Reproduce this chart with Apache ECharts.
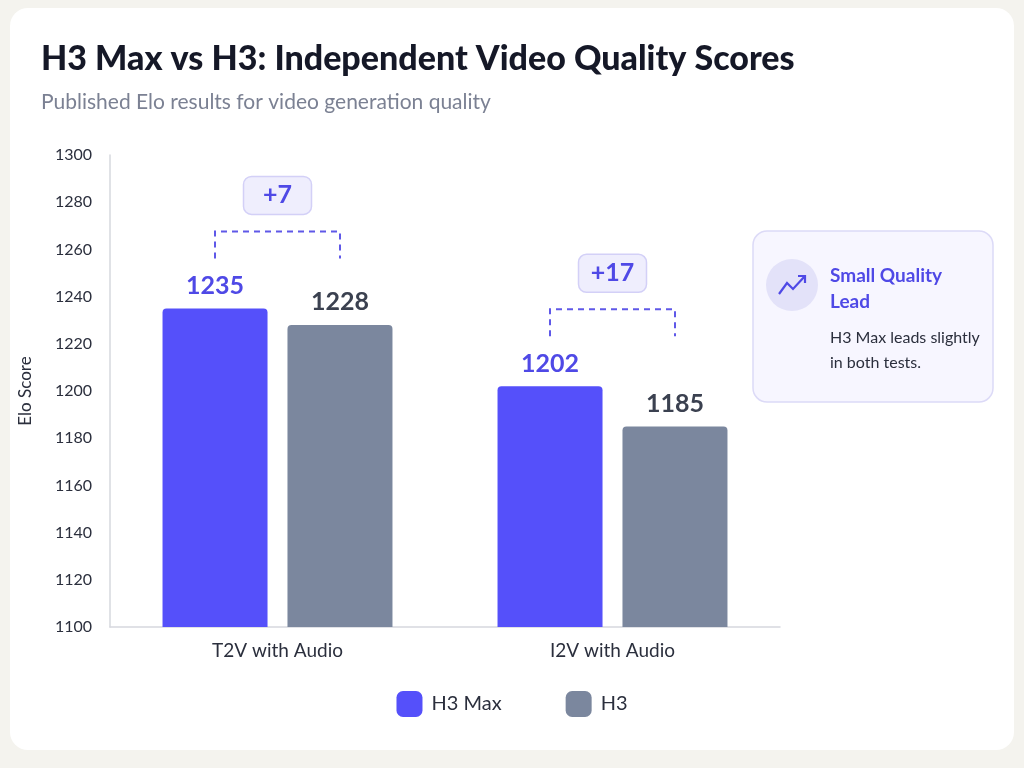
<!DOCTYPE html>
<html>
<head>
<meta charset="utf-8">
<script src="https://cdn.jsdelivr.net/npm/echarts@6/dist/echarts.min.js"></script>
<style>
  html, body { margin: 0; padding: 0; background: #f4f3ee; }
  #card { position: absolute; left: 10px; top: 8px; width: 1004px; height: 742px; background: #fff; border-radius: 18px; }
  #chart { position: absolute; left: 0; top: 0; width: 1024px; height: 768px; }
</style>
</head>
<body>
<div id="card"></div>
<div id="chart"></div>
<script>
var categories = ['T2V with Audio', 'I2V with Audio'];
var h3MaxScores = [1235, 1202];
var h3Scores = [1228, 1185];
var yTicks = { min: 1100, max: 1300, interval: 20 };

var chart = echarts.init(document.getElementById('chart'), null, { renderer: 'canvas' });
var font = 'Lato, "Open Sans", sans-serif';
var barW = 105, barGapPx = 20;

var option = {
  textStyle: { fontFamily: font },
  title: {
    text: 'H3 Max vs H3: Independent Video Quality Scores',
    subtext: 'Published Elo results for video generation quality',
    left: 36, top: 37, itemGap: 16,
    textStyle: { fontSize: 34, fontWeight: 900, color: '#151827', fontFamily: font },
    subtextStyle: { fontSize: 21, color: '#7b8193', fontFamily: font }
  },
  legend: {
    bottom: 46, left: 'center', itemWidth: 26, itemHeight: 26, itemGap: 64,
    icon: 'roundRect',
    textStyle: { fontSize: 20, color: '#2b2f3d', fontFamily: font, padding: [0, 0, 0, 4] },
    data: ['H3 Max', 'H3']
  },
  grid: { left: 110, right: 244, top: 155, bottom: 141 },
  xAxis: {
    type: 'category', data: categories,
    axisLine: { lineStyle: { color: '#d6d8de', width: 1.5 } },
    axisTick: { show: false },
    axisLabel: { fontSize: 19, color: '#2b2f3d', margin: 14 }
  },
  yAxis: {
    type: 'value', min: yTicks.min, max: yTicks.max, interval: yTicks.interval,
    name: 'Elo Score', nameLocation: 'middle', nameGap: 76, nameRotate: 90,
    nameTextStyle: { fontSize: 17, color: '#2b2f3d' },
    axisLine: { show: true, lineStyle: { color: '#d6d8de', width: 1.5 } },
    splitLine: { show: false },
    axisLabel: { fontSize: 16, color: '#2b2f3d', margin: 18, formatter: function (v) { return String(v); } }
  },
  series: [
    {
      name: 'H3 Max', type: 'bar', data: h3MaxScores, barWidth: barW, barGap: '19%',
      itemStyle: { color: '#5550fa', borderRadius: [4, 4, 0, 0] },
      label: { show: true, position: 'top', distance: 10, fontSize: 25, fontWeight: 'bold', color: '#4f49e6' }
    },
    {
      name: 'H3', type: 'bar', data: h3Scores, barWidth: barW,
      itemStyle: { color: '#7b879e', borderRadius: [4, 4, 0, 0] },
      label: { show: true, position: 'top', distance: 10, fontSize: 25, fontWeight: 'bold', color: '#3b4150' }
    }
  ]
};
chart.setOption(option);

var g = [];
categories.forEach(function (c, i) {
  var a = chart.convertToPixel({ seriesIndex: 0 }, [i, h3MaxScores[i]]);
  var b = chart.convertToPixel({ seriesIndex: 1 }, [i, h3Scores[i]]);
  var ax = a[0] - (barW + barGapPx) / 2, bx = b[0] + (barW + barGapPx) / 2;
  var top = Math.min(a[1], b[1]);
  var yb = top - 50, yt = top - 77, cx = (ax + bx) / 2;
  g.push({
    type: 'polyline',
    shape: { points: [[ax, yb], [ax, yt], [bx, yt], [bx, yb]] },
    style: { stroke: '#5f58e8', lineWidth: 2, lineDash: [6, 5], fill: null }
  });
  g.push({
    type: 'rect', shape: { x: cx - 34, y: top - 132, width: 68, height: 38, r: 8 },
    style: { fill: '#efeefd', stroke: '#d3d0f7', lineWidth: 1.5 }
  });
  g.push({
    type: 'text', x: cx, y: top - 113,
    style: { text: '+' + (h3MaxScores[i] - h3Scores[i]), fill: '#4f49e6', font: 'bold 25px ' + font, align: 'center', verticalAlign: 'middle' }
  });
});
g.push({
  type: 'rect', shape: { x: 753, y: 231, width: 240, height: 171, r: 14 },
  style: { fill: '#f7f6ff', stroke: '#dcdaf7', lineWidth: 1.5 }
});
g.push({ type: 'circle', shape: { cx: 792, cy: 285, r: 26 }, style: { fill: '#e3e2f9' } });
g.push({
  type: 'polyline', shape: { points: [[779, 294], [787, 283], [793, 289], [805, 276]] },
  style: { stroke: '#4f49e6', lineWidth: 2.2, fill: null }
});
g.push({
  type: 'polyline', shape: { points: [[798, 276], [805, 276], [805, 283]] },
  style: { stroke: '#4f49e6', lineWidth: 2.2, fill: null }
});
g.push({
  type: 'text', x: 830, y: 263,
  style: { text: 'Small Quality\nLead', fill: '#4f49e6', font: 'bold 19px ' + font, lineHeight: 26 }
});
g.push({
  type: 'text', x: 830, y: 325,
  style: { text: 'H3 Max leads slightly\nin both tests.', fill: '#2b2f3d', font: '16px ' + font, lineHeight: 25 }
});
chart.setOption({ graphic: g });
</script>
</body>
</html>
